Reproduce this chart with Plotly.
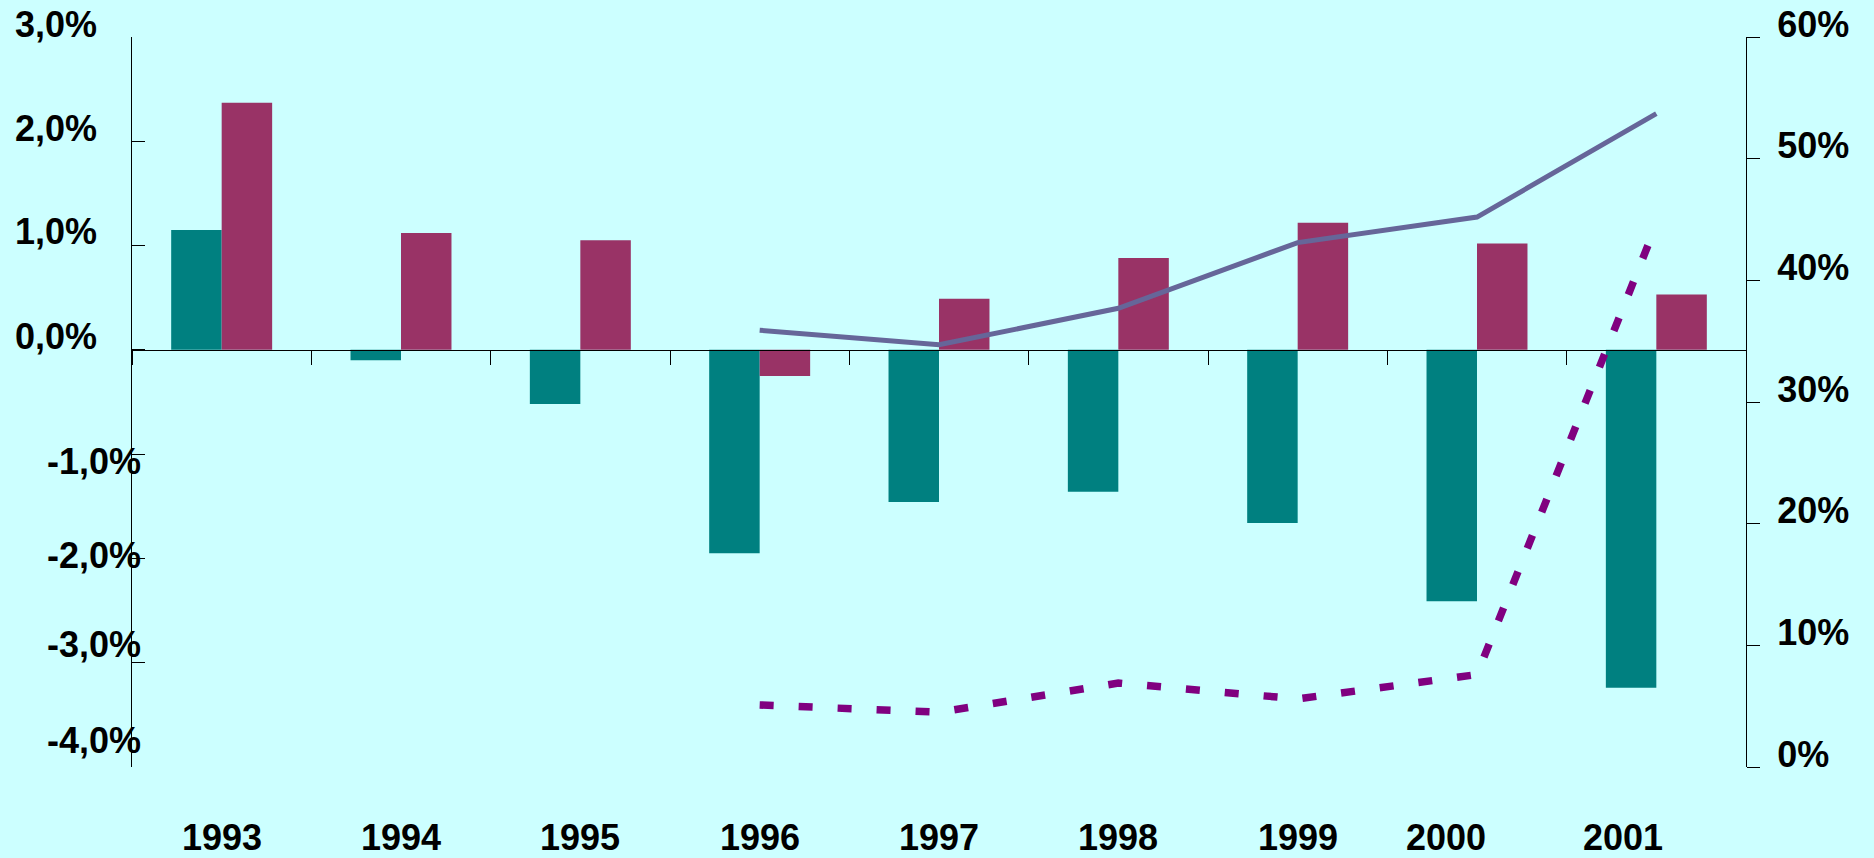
import plotly.graph_objects as go

# Data
years = ["1993", "1994", "1995", "1996", "1997", "1998", "1999", "2000", "2001"]
bar_teal = [1.15, -0.10, -0.52, -1.95, -1.46, -1.36, -1.66, -2.41, -3.24]
bar_wine = [2.37, 1.12, 1.05, -0.25, 0.49, 0.88, 1.22, 1.02, 0.53]

line_years = ["1996", "1997", "1998", "1999", "2000", "2001"]
line_solid = [35.9, 34.7, 37.7, 43.1, 45.2, 53.7]
line_dashed = [5.1, 4.5, 6.9, 5.6, 7.6, 44.6]

left_ticks = [3, 2, 1, 0, -1, -2, -3, -4]
left_labels = ["3,0%", "2,0%", "1,0%", "0,0%", "-1,0%", "-2,0%", "-3,0%", "-4,0%"]

BG = "#CCFFFF"
FONT = dict(family="Arial, Liberation Sans, sans-serif", size=36, color="black", weight="bold")

fig = go.Figure()

fig.add_trace(go.Bar(x=years, y=bar_teal, marker=dict(color="#008080", line=dict(width=0)),
                     yaxis="y", showlegend=False))
fig.add_trace(go.Bar(x=years, y=bar_wine, marker=dict(color="#993366", line=dict(width=0)),
                     yaxis="y", showlegend=False))

fig.add_trace(go.Scatter(x=line_years, y=line_solid, mode="lines", yaxis="y2",
                         line=dict(color="#666699", width=5), showlegend=False))
fig.add_trace(go.Scatter(x=line_years, y=line_dashed, mode="lines", yaxis="y2",
                         line=dict(color="#800080", width=7.5, dash="14px,25px"),
                         showlegend=False))

fig.update_layout(
    width=1874, height=858,
    paper_bgcolor=BG, plot_bgcolor=BG,
    margin=dict(l=132, r=128, t=37, b=91),
    barmode="group", bargap=0.437, bargroupgap=0,
    xaxis=dict(type="category", range=[-0.5, 8.5], anchor="free", position=4 / 7,
               showline=True, linecolor="black", linewidth=1,
               ticks="outside", tickson="boundaries", ticklen=14, tickcolor="black",
               showticklabels=False, showgrid=False, zeroline=False, automargin=False),
    yaxis=dict(range=[-4, 3], tickvals=left_ticks, showticklabels=False,
               showline=True, linecolor="black", linewidth=1,
               ticks="inside", ticklen=13, tickcolor="black",
               showgrid=False, zeroline=False, automargin=False),
    yaxis2=dict(range=[0, 60], dtick=10, overlaying="y", side="right", anchor="x",
                ticksuffix="%", tickfont=FONT,
                showline=True, linecolor="black", linewidth=1,
                ticks="outside", ticklen=13, tickcolor="black",
                ticklabelshift=-13, ticklabelstandoff=10,
                showgrid=False, zeroline=False, automargin=False),
)

# year labels along the bottom (category index used as position)
year_shift = {"2000": -31, "2001": -33}
for i, yr in enumerate(years):
    fig.add_annotation(x=i, xref="x", y=0, yref="paper", text=yr, showarrow=False,
                       yanchor="middle", yshift=-70, xshift=year_shift.get(yr, 0), font=FONT)

# left axis labels (negative ones sit off their ticks, as in the original)
label_shift = {3: (-33, 13), 2: (-33, 13), 1: (-33, 14), 0: (-33, 13),
               -1: (11, -7), -2: (11, 3), -3: (11, 18), -4: (11, 27)}
for val, txt in zip(left_ticks, left_labels):
    dx, dy = label_shift[val]
    fig.add_annotation(x=0, xref="paper", y=val, yref="y", text=txt, showarrow=False,
                       xanchor="right", yanchor="middle", xshift=dx, yshift=dy, font=FONT)

fig.write_html("out.html", config={"displayModeBar": False},
               post_script="document.body.style.margin='0';")
